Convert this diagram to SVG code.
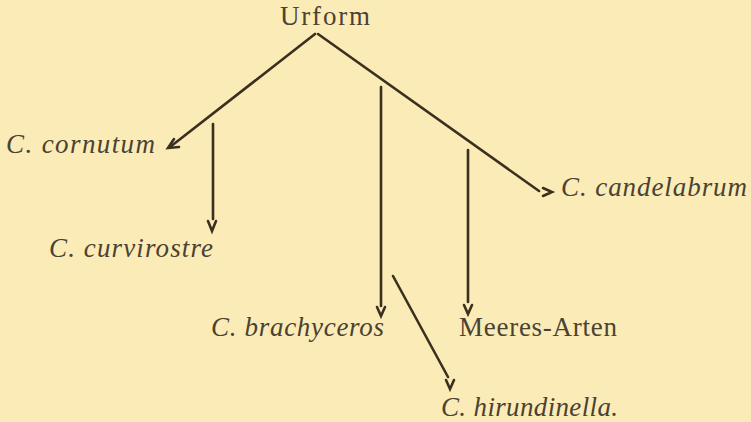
<svg xmlns="http://www.w3.org/2000/svg" width="751" height="422" viewBox="0 0 751 422">
<style>
.t{font-family:"Liberation Serif","Times New Roman",serif;font-size:27px;fill:#4a4232}
.i{font-style:italic}
.c{stroke:#3b3020;stroke-width:2.6;fill:none;stroke-linecap:round;stroke-linejoin:miter}
</style>
<rect width="751" height="422" fill="#fbebb6"/>
<g id="connectors">
<path class="c" d="M315,34 L170,147"/>
<path class="c" d="M174,139 L168,148 L179,147"/>
<path class="c" d="M318,34 L539,191"/>
<path class="c" d="M543,188 L552,192 L543,196"/>
<path class="c" d="M213,124 L213,219"/>
<path class="c" d="M208,221 L212,231 L216,221"/>
<path class="c" d="M381,87 L381,306"/>
<path class="c" d="M377,307 L381,316 L385,307"/>
<path class="c" d="M468,150 L468,302"/>
<path class="c" d="M464,305 L468,314 L472,305"/>
<path class="c" d="M393,276 L448,377"/>
<path class="c" d="M446,380 L450,389 L454,380"/>
</g>
<g id="urform"><text class="t" x="280" y="25" textLength="90">Urform</text></g>
<g id="cornutum"><text class="t i" x="6" y="153" textLength="149">C. cornutum</text></g>
<g id="curvirostre"><text class="t i" x="49" y="257" textLength="164">C. curvirostre</text></g>
<g id="brachyceros"><text class="t i" x="211" y="336" textLength="173">C. brachyceros</text></g>
<g id="meeres"><text class="t" x="459" y="336" textLength="158">Meeres-Arten</text></g>
<g id="hirundinella"><text class="t i" x="441" y="416" textLength="177">C. hirundinella.</text></g>
<g id="candelabrum"><text class="t i" x="561" y="196" textLength="186">C. candelabrum</text></g>
</svg>
